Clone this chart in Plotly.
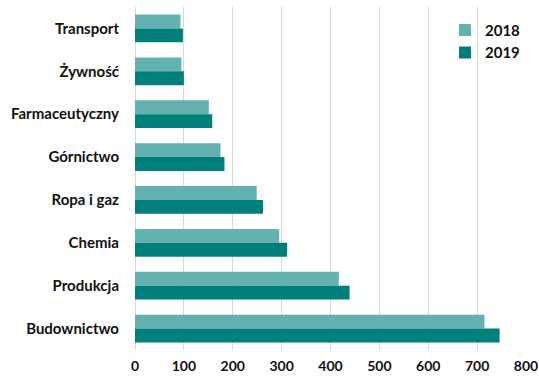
import plotly.graph_objects as go

# Sectors, top to bottom
sectors = ["Transport", "Żywność", "Farmaceutyczny", "Górnictwo",
           "Ropa i gaz", "Chemia", "Produkcja", "Budownictwo"]
values_2018 = [93, 95, 151, 175, 249, 295, 417, 715]
values_2019 = [98, 100, 158, 183, 262, 311, 439, 746]
x_ticks = [0, 100, 200, 300, 400, 500, 600, 700, 800]

color_2018 = "#63B2AF"
color_2019 = "#007F7B"
font_family = "Lato, 'Open Sans', sans-serif"
text_color = "#111111"

fig = go.Figure()
fig.add_trace(go.Bar(y=sectors, x=values_2018, name="2018", orientation="h",
                     legendgroup="2018",
                     marker=dict(color=color_2018, line=dict(width=0))))
fig.add_trace(go.Bar(y=sectors, x=values_2019, name="2019", orientation="h",
                     legendgroup="2019",
                     marker=dict(color=color_2019, line=dict(width=0))))

fig.update_layout(
    width=539, height=378,
    margin=dict(l=135, r=13, t=7, b=28, autoexpand=False),
    paper_bgcolor="white", plot_bgcolor="white",
    barmode="group", bargap=0.35, bargroupgap=0,
    font=dict(family=font_family, size=14, color=text_color),
    showlegend=True,
    legend=dict(x=1.0, y=0.98, xanchor="right", yanchor="top",
                font=dict(family=font_family, size=15, color=text_color, weight="bold"),
                bgcolor="rgba(0,0,0,0)", traceorder="normal",
                itemwidth=30, tracegroupgap=3),
)
fig.update_xaxes(range=[0, 800], tickvals=x_ticks, ticktext=[str(v) for v in x_ticks],
                 showgrid=True, gridcolor="#D9D9D9", gridwidth=1,
                 zeroline=True, zerolinecolor="#D9D9D9", zerolinewidth=1,
                 showline=False, ticks="", ticklabelstandoff=6,
                 tickfont=dict(family=font_family, size=14, color=text_color, weight="bold"),
                 fixedrange=True)
fig.update_yaxes(autorange="reversed", showgrid=False, showline=False, ticks="",
                 ticklabelstandoff=15,
                 tickfont=dict(family=font_family, size=15, color=text_color, weight="bold"),
                 fixedrange=True)

fig.write_html("out.html")
